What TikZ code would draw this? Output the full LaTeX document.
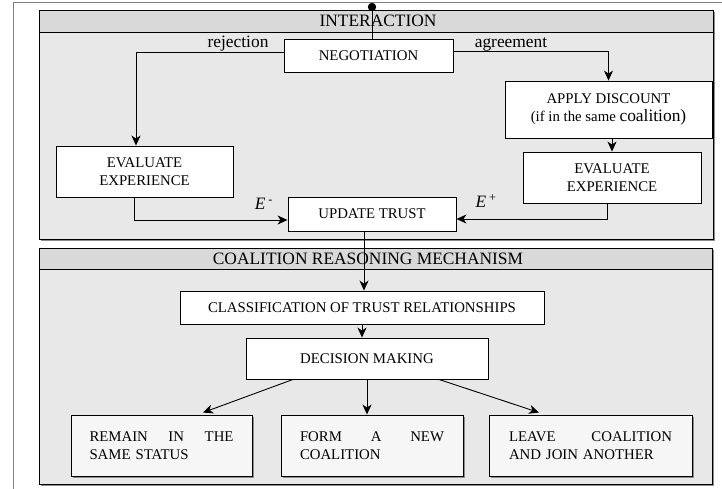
\documentclass[tikz,border=0pt]{standalone}
\usepackage{fontspec}
\setmainfont{Liberation Serif}
\usetikzlibrary{arrows.meta}
\definecolor{hdrgray}{HTML}{D9D9D9}
\definecolor{bodygray}{HTML}{E8E8E8}
\definecolor{boxgray}{HTML}{F6F6F6}
\definecolor{framegray}{HTML}{808080}
\newcommand{\boxfont}{\fontsize{14.8}{17.5}\selectfont}
\newcommand{\bigfont}{\fontsize{17.4}{20}\selectfont}
\tikzset{
  box/.style={draw=black, line width=0.9pt, fill=white, inner sep=0pt, align=center, font=\boxfont},
  lowbox/.style={draw=black, line width=0.9pt, fill=boxgray, inner sep=0pt, align=left, font=\boxfont},
  arr/.style={line width=0.9pt, -{Stealth[length=10pt,width=9pt,inset=3pt]}},
  conn/.style={line width=0.9pt},
  panelfill/.style={draw=black, line width=0.9pt, fill=bodygray},
  hdrfill/.style={draw=black, line width=0.9pt, fill=hdrgray},
  shadow/.style={fill=framegray!90},
  lbl/.style={font=\bigfont, inner sep=0pt}
}
\begin{document}
\begin{tikzpicture}[x=1pt,y=-1pt]
\useasboundingbox (0,0) rectangle (722,489);
% outer frame
\draw[framegray, line width=1pt] (13,489) -- (13,3) -- (722,3);
% interaction panel
\fill[shadow] (41,12) rectangle (715,241);
\draw[panelfill] (39,10) rectangle (713,239);
\draw[hdrfill] (39,10) rectangle (713,32);
\node[lbl] (hint) at (378,21) {INTERACTION};
% coalition panel
\fill[shadow] (41,250) rectangle (714,486);
\draw[panelfill] (39,248) rectangle (712,484);
\draw[hdrfill] (39,248) rectangle (712,269);
\node[lbl] (hcoal) at (368,258.5) {COALITION REASONING MECHANISM};

% nodes
\node[box, minimum width=169pt, minimum height=33pt] (neg) at (368.5,55.5) {NEGOTIATION};
\node[box, minimum width=177pt, minimum height=51pt] (evL) at (144.5,171.5) {EVALUATE\\EXPERIENCE};
\node[box, minimum width=168pt, minimum height=34pt] (upd) at (372,214) {UPDATE TRUST};
\node[box, minimum width=207pt, minimum height=57pt] (disc) at (608.5,109.5) {APPLY DISCOUNT\\(if in the same {\bigfont coalition)}};
\node[box, minimum width=178pt, minimum height=51pt] (evR) at (612,177.5) {EVALUATE\\EXPERIENCE};
\node[box, minimum width=364pt, minimum height=33pt] (cls) at (362,307.5) {CLASSIFICATION OF TRUST RELATIONSHIPS};
\node[box, minimum width=242pt, minimum height=41pt] (dec) at (367,358.5) {DECISION MAKING};

\fill[shadow] (73,417) rectangle (254,478);
\fill[shadow] (283,417) rectangle (465,478);
\fill[shadow] (491,417) rectangle (694,478);
\node[lowbox, minimum width=181pt, minimum height=61pt, text width=144pt] (rem) at (161.5,445.5) {REMAIN\hfill IN\hfill THE\\SAME STATUS};
\node[lowbox, minimum width=182pt, minimum height=61pt, text width=144pt] (form) at (372,445.5) {FORM\hfill A\hfill NEW\\COALITION};
\node[lowbox, minimum width=203pt, minimum height=61pt, text width=163pt] (leave) at (590.5,445.5) {LEAVE\hfill COALITION\\AND JOIN ANOTHER};

% start dot
\coordinate (start) at (372,7);
\fill (start) circle (4.2pt);
\draw[conn] (start) -- (start |- neg.north);

% labels
\node[lbl] (rej) at (238,44) {rejection};
\node[lbl] (agr) at (511,44) {agreement};
\node[lbl] (em) at (264,204) {\textit{E}\,\textsuperscript{-}};
\node[lbl] (ep) at (486,201) {\textit{E}\,\textsuperscript{+}};

% connectors
\draw[arr] ([yshift=3.5pt]neg.west) -| ([xshift=-8.5pt]evL.north);
\draw[arr] ([yshift=4pt]neg.east) -| (disc.north);
\draw[arr] (disc.south -| evR.north) -- (evR.north);
\draw[arr] ([xshift=-10.5pt]evL.south) |- ([yshift=-6pt]upd.west);
\draw[arr] ([xshift=-5pt]evR.south) |- ([yshift=-5pt]upd.east);
\draw[arr] ([xshift=-8pt]upd.south) -- ([xshift=-8pt]upd.south |- cls.north);
\draw[arr] (cls.south) -- (cls.south |- dec.north);
\draw[arr] ([xshift=-74pt]dec.south) -- ([xshift=41.5pt,yshift=2pt]rem.north);
\draw[arr] (dec.south) -- (dec.south |- form.north);
\draw[arr] ([xshift=72pt]dec.south) -- ([xshift=-51.5pt,yshift=2pt]leave.north);
\end{tikzpicture}
\end{document}
